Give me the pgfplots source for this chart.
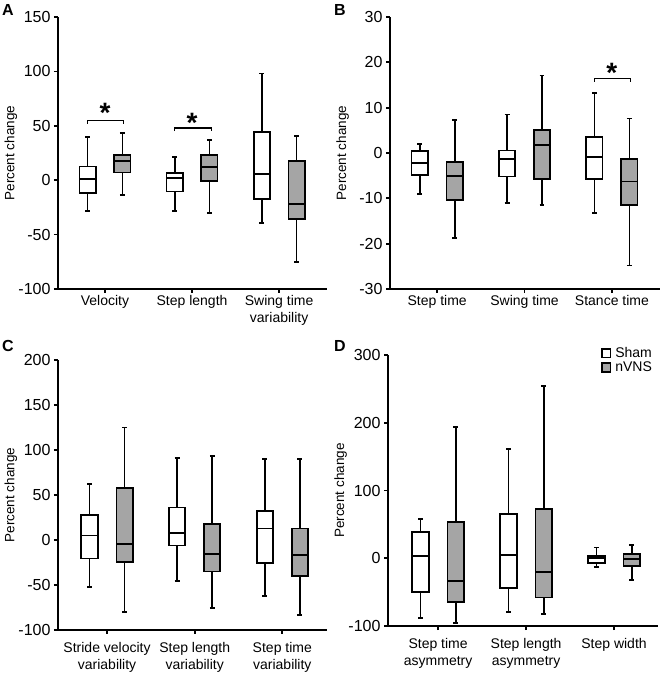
\documentclass[border=0pt]{standalone}
\usepackage{fontspec}
\setmainfont{Liberation Sans}
\usepackage{pgfplots}
\pgfplotsset{compat=1.18}
\definecolor{boxgray}{RGB}{165,165,165}
\newcommand{\tickfont}{\fontsize{16bp}{18bp}\selectfont}
\newcommand{\catfont}{\fontsize{14bp}{16.5bp}\selectfont}
\newcommand{\labfont}{\fontsize{13.5bp}{16bp}\selectfont}
\newcommand{\starfont}{\fontsize{28bp}{28bp}\selectfont\bfseries}
\newcommand{\lab}[1]{\begin{tabular}{@{}c@{}}#1\end{tabular}}
\pgfplotsset{
  panel/.style={
    scale only axis,
    axis lines*=left,
    axis line style={line width=1.7bp, black},
    every tick/.style={line width=1.7bp, black},
    tick align=outside,
    major tick length=4bp,
    xtick={1,2,3},
    xmin=0.46, xmax=3.55,
    /pgf/number format/assume math mode=true,
    yticklabel style={font=\tickfont},
    xticklabel style={font=\catfont, inner sep=1bp},
    ylabel={Percent change},
    ylabel style={font=\labfont, at={(axis description cs:-0.175,0.5)}, anchor=center},
    clip=false,
  },
  sham/.style={draw=black, fill=white, line width=1.8bp, solid, line join=miter},
  nvns/.style={draw=black, fill=boxgray, line width=1.8bp, solid, line join=miter},
  wh/.style={draw=black, line width=1.8bp, solid},
}
% \bx{style}{position}{lower whisker}{Q1}{median}{Q3}{upper whisker}
\newcommand{\bx}[7]{%
  \pgfmathsetmacro\bxl{#2-0.093}\pgfmathsetmacro\bxr{#2+0.093}%
  \pgfmathsetmacro\capl{#2-0.028}\pgfmathsetmacro\capr{#2+0.028}%
  \edef\bxtmp{%
    \noexpand\addplot[wh, forget plot] coordinates {(#2,#6) (#2,#7)};
    \noexpand\addplot[wh, forget plot] coordinates {(\capl,#7) (\capr,#7)};
    \noexpand\addplot[wh, forget plot] coordinates {(#2,#4) (#2,#3)};
    \noexpand\addplot[wh, forget plot] coordinates {(\capl,#3) (\capr,#3)};
    \noexpand\addplot[#1, forget plot] coordinates {(\bxl,#4) (\bxr,#4) (\bxr,#6) (\bxl,#6)} -- cycle;
    \noexpand\addplot[wh, forget plot] coordinates {(\bxl,#5) (\bxr,#5)};
  }\bxtmp}
\begin{document}
\begin{tikzpicture}
\path[use as bounding box] (0,0) rectangle (662bp,675bp);
% Panel A
\begin{axis}[panel, at={(58bp,386bp)}, anchor=south west, width=269bp, height=272bp,
  ymin=-100, ymax=150, ytick={-100,-50,0,50,100,150},
  xticklabels={\lab{Velocity}, \lab{Step length}, \lab{Swing time\\variability}}]
\bx{sham}{0.8}{-28}{-12}{1}{12.6}{39.6}
\bx{nvns}{1.2}{-13.5}{7}{18}{23.3}{43.6}
\bx{sham}{1.8}{-28.5}{-10.4}{1.8}{6.7}{21}
\bx{nvns}{2.2}{-29.8}{-0.6}{12.3}{23}{37}
\bx{sham}{2.8}{-39}{-17}{5.5}{44}{98}
\bx{nvns}{3.2}{-75.5}{-36}{-21.8}{18}{40.5}
\draw[line width=1.3bp] (axis cs:0.8,52) -- (axis cs:0.8,55) -- (axis cs:1.21,55) -- (axis cs:1.21,52);
\node[font=\starfont] at (axis cs:1.0,61.5) {*};
\draw[line width=1.3bp] (axis cs:1.8,45) -- (axis cs:1.8,48) -- (axis cs:2.22,48) -- (axis cs:2.22,45);
\node[font=\starfont] at (axis cs:2.0,52.5) {*};
\end{axis}
% Panel B
\begin{axis}[panel, at={(390bp,386bp)}, anchor=south west, width=270bp, height=272bp,
  ymin=-30, ymax=30, ytick={-30,-20,-10,0,10,20,30},
  xticklabels={\lab{Step time}, \lab{Swing time}, \lab{Stance time}}]
\bx{sham}{0.8}{-9.0}{-4.9}{-2.2}{0.4}{2.0}
\bx{nvns}{1.2}{-18.7}{-10.3}{-5.0}{-2.0}{7.2}
\bx{sham}{1.8}{-11.1}{-5.2}{-1.4}{0.55}{8.5}
\bx{nvns}{2.2}{-11.5}{-5.8}{1.7}{5.1}{17.1}
\bx{sham}{2.8}{-13.2}{-5.8}{-0.9}{3.5}{13.2}
\bx{nvns}{3.2}{-24.8}{-11.4}{-6.3}{-1.4}{7.6}
\draw[line width=1.3bp] (axis cs:2.8,15.7) -- (axis cs:2.8,16.4) -- (axis cs:3.21,16.4) -- (axis cs:3.21,15.7);
\node[font=\starfont] at (axis cs:3.0,17.6) {*};
\end{axis}
% Panel C
\begin{axis}[panel, at={(58bp,45bp)}, anchor=south west, width=269bp, height=270bp,
  ymin=-100, ymax=200, ytick={-100,-50,0,50,100,150,200},
  xmin=0.44, xmax=3.51,
  xticklabel style={yshift=-6bp},
  xticklabels={\lab{Stride velocity\\variability}, \lab{Step length\\variability}, \lab{Step time\\variability}}]
\bx{sham}{0.8}{-52}{-20.5}{5}{28}{62}
\bx{nvns}{1.2}{-80}{-24.6}{-4.7}{58}{125}
\bx{sham}{1.8}{-45.6}{-6.2}{7.5}{36}{91}
\bx{nvns}{2.2}{-76}{-35}{-16}{17.5}{93}
\bx{sham}{2.8}{-62}{-26}{12.7}{32.6}{90}
\bx{nvns}{3.2}{-83}{-40}{-17}{12.7}{90}
\end{axis}
% Panel D
\begin{axis}[panel, at={(388bp,49bp)}, anchor=south west, width=270bp, height=271bp,
  ymin=-100, ymax=300, ytick={-100,0,100,200,300},
  xmin=0.43, xmax=3.5,
  xticklabel style={yshift=-6bp},
  xticklabels={\lab{Step time\\asymmetry}, \lab{Step length\\asymmetry}, \lab{Step width}},
  legend style={at={(0.993,1.033)}, anchor=north east, draw=none, fill=none,
    font=\catfont, row sep=1bp, inner sep=0pt, nodes={inner xsep=4bp, inner ysep=1bp}},
  legend cell align=left,
  legend image code/.code={\draw[#1, line width=1.7bp] (0bp,-4.3bp) rectangle (8.6bp,4.3bp);}]
\addlegendimage{draw=black, fill=white}
\addlegendentry{Sham}
\addlegendimage{draw=black, fill=boxgray}
\addlegendentry{nVNS}
\bx{sham}{0.8}{-88.7}{-49.3}{3.3}{38.7}{57.5}
\bx{nvns}{1.2}{-96}{-64}{-33.6}{53}{194}
\bx{sham}{1.8}{-79}{-44.4}{4.8}{65}{161}
\bx{nvns}{2.2}{-82.7}{-58}{-19.8}{72.7}{254.6}
\bx{sham}{2.8}{-12.4}{-6.5}{0}{3.3}{16}
\bx{nvns}{3.2}{-32.6}{-11.4}{-1.6}{6.3}{19.6}
\end{axis}
% Panel letters
\node[anchor=north west, inner sep=0pt, font=\fontsize{16bp}{16bp}\selectfont\bfseries] at (2bp,671bp) {A};
\node[anchor=north west, inner sep=0pt, font=\fontsize{16bp}{16bp}\selectfont\bfseries] at (334bp,671bp) {B};
\node[anchor=north west, inner sep=0pt, font=\fontsize{16bp}{16bp}\selectfont\bfseries] at (2bp,335bp) {C};
\node[anchor=north west, inner sep=0pt, font=\fontsize{16bp}{16bp}\selectfont\bfseries] at (334bp,335bp) {D};
\end{tikzpicture}
\end{document}
